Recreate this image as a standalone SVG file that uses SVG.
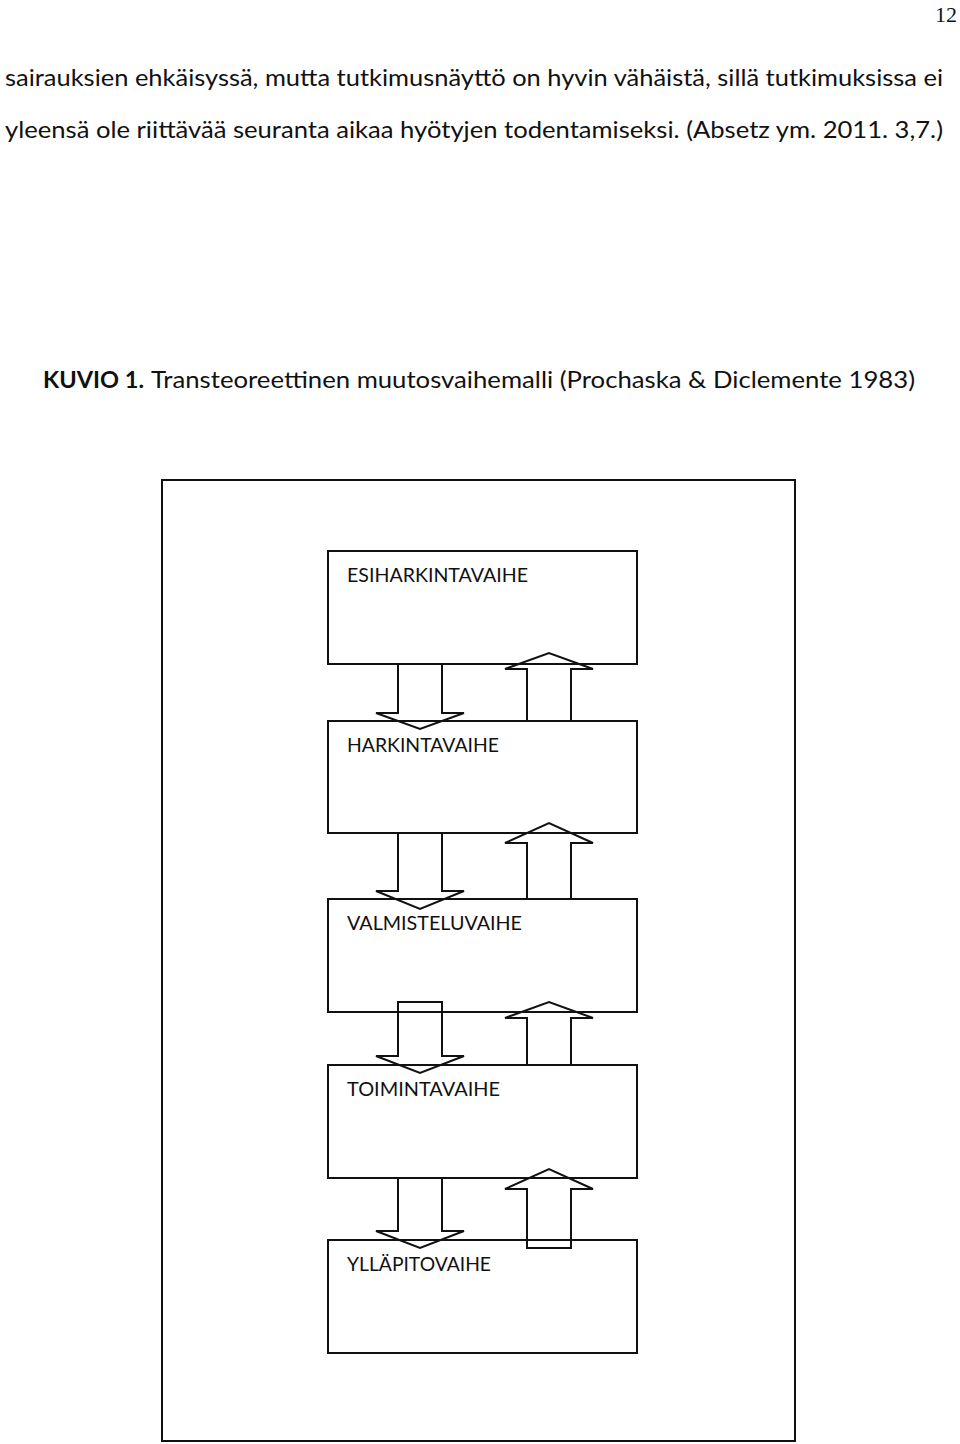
<svg xmlns="http://www.w3.org/2000/svg" width="960" height="1444" viewBox="0 0 960 1444">
<style>
.body{font-family:Lato,"Open Sans","Liberation Sans",sans-serif;font-size:23px;fill:#111}
.lbl{font-family:Lato,"Open Sans","Liberation Sans",sans-serif;font-size:19px;fill:#111}
.box{fill:none;stroke:#111;stroke-width:2}
.arr{fill:none;stroke:#111;stroke-width:2;stroke-linejoin:miter}
</style>
<rect width="960" height="1444" fill="#fff"/>
<text x="957" y="22" text-anchor="end" style="font-family:'Liberation Serif',serif;font-size:22px;fill:#111">12</text>
<text class="body" x="5" y="86" textLength="938" lengthAdjust="spacingAndGlyphs">sairauksien ehkäisyssä, mutta tutkimusnäyttö on hyvin vähäistä, sillä tutkimuksissa ei</text>
<text class="body" x="5" y="138" textLength="938" lengthAdjust="spacingAndGlyphs">yleensä ole riittävää seuranta aikaa hyötyjen todentamiseksi. (Absetz ym. 2011. 3,7.)</text>
<text class="body" x="43" y="388" font-weight="bold" textLength="101" lengthAdjust="spacingAndGlyphs">KUVIO 1.</text>
<text class="body" x="151" y="388" textLength="764" lengthAdjust="spacingAndGlyphs">Transteoreettinen muutosvaihemalli (Prochaska &amp; Diclemente 1983)</text>
<rect id="frame" x="162" y="480" width="633" height="961" class="box"/>
<g id="connectors">
<polygon class="arr" points="398,664 442,664 442,713 464,713 420,729 376,713 398,713"/>
<polygon class="arr" points="398,833 442,833 442,891 464,891 420,909 376,891 398,891"/>
<polygon class="arr" points="398,1002 442,1002 442,1056 464,1056 420,1073 376,1056 398,1056"/>
<polygon class="arr" points="398,1178 442,1178 442,1231 464,1231 420,1248 376,1231 398,1231"/>
<polygon class="arr" points="527,721 527,669 505,669 549,653 593,669 571,669 571,721"/>
<polygon class="arr" points="527,899 527,843 505,843 549,823 593,843 571,843 571,899"/>
<polygon class="arr" points="527,1065 527,1018 505,1018 549,1002 593,1018 571,1018 571,1065"/>
<polygon class="arr" points="527,1248 527,1189 505,1189 549,1169 593,1189 571,1189 571,1248"/>
</g>
<g id="n1"><rect class="box" x="328" y="551" width="309" height="113"/><text class="lbl" x="347" y="582" textLength="181" lengthAdjust="spacingAndGlyphs">ESIHARKINTAVAIHE</text></g>
<g id="n2"><rect class="box" x="328" y="721" width="309" height="112"/><text class="lbl" x="347" y="752" textLength="152" lengthAdjust="spacingAndGlyphs">HARKINTAVAIHE</text></g>
<g id="n3"><rect class="box" x="328" y="899" width="309" height="113"/><text class="lbl" x="347" y="930" textLength="175" lengthAdjust="spacingAndGlyphs">VALMISTELUVAIHE</text></g>
<g id="n4"><rect class="box" x="328" y="1065" width="309" height="113"/><text class="lbl" x="347" y="1096" textLength="153" lengthAdjust="spacingAndGlyphs">TOIMINTAVAIHE</text></g>
<g id="n5"><rect class="box" x="328" y="1240" width="309" height="113"/><text class="lbl" x="347" y="1271" textLength="144" lengthAdjust="spacingAndGlyphs">YLLÄPITOVAIHE</text></g>
</svg>
